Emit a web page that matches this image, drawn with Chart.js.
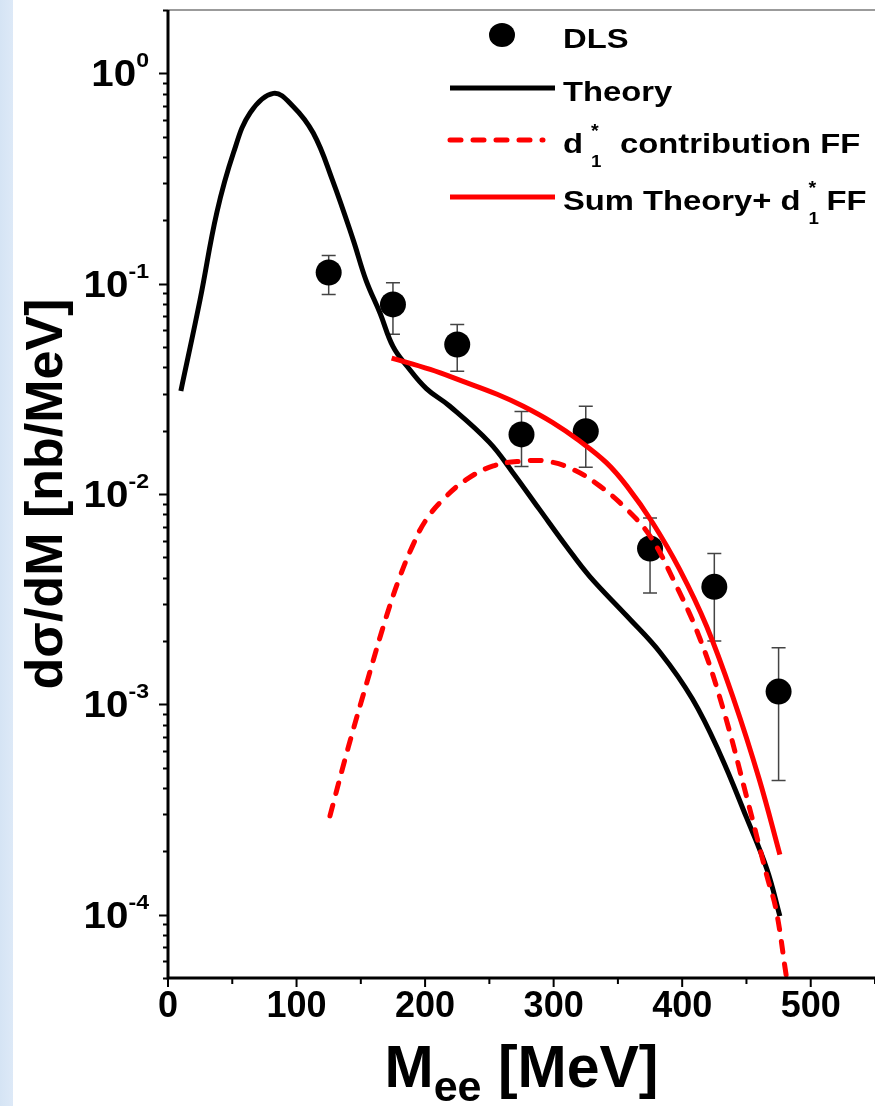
<!DOCTYPE html>
<html>
<head>
<meta charset="utf-8">
<title>DLS dielectron spectrum</title>
<script src="https://cdn.jsdelivr.net/npm/chart.js@4.4.1/dist/chart.umd.min.js"></script>
<style>
    html, body { margin: 0; padding: 0; }
    body {
        width: 875px; height: 1106px; overflow: hidden; position: relative;
        background: linear-gradient(to right, #d5e4f4 0, #dde9f7 13px, #ffffff 13px);
    }
    #chart { position: absolute; left: 0; top: 0; }
</style>
</head>
<body>
<canvas id="chart" width="875" height="1106"></canvas>
<script>
"use strict";

// DLS-mätpunkter (M_ee i MeV, dσ/dM i nb/MeV)
const dlsMass = [125, 175, 225, 275, 325, 375, 425, 475];
const dlsValues = [0.113, 0.0797, 0.0514, 0.0192, 0.0199, 0.00551, 0.00362, 0.00115];
const dlsErrHigh = [0.136, 0.101, 0.064, 0.0247, 0.0261, 0.00768, 0.00522, 0.00186];
const dlsErrLow = [0.0889, 0.0574, 0.0383, 0.0135, 0.0134, 0.00338, 0.0020, 0.000435];

// Teorikurva
const theoryMass = [10, 25, 38, 51, 64, 82, 97, 113, 128, 144, 154, 165, 175, 186, 201, 219, 250, 268, 289, 310, 328, 357, 383, 408, 429, 450, 466, 476];
const theoryValues = [0.0309, 0.0842, 0.218, 0.420, 0.650, 0.803, 0.700, 0.520, 0.310, 0.162, 0.104, 0.0723, 0.0503, 0.0405, 0.0317, 0.0262, 0.0176, 0.0127, 0.00845, 0.00563, 0.00406, 0.00263, 0.00176, 0.00106, 0.000589, 0.000290, 0.000164, 0.0000984];

// d1* bidrag (formfaktor)
const d1Mass = [126, 140, 155, 170, 180, 190, 200, 214, 232, 253, 274, 295, 315, 336, 357, 375, 393, 414, 432, 450, 466, 473, 481];
const d1Values = [0.000295, 0.000617, 0.00129, 0.00263, 0.00398, 0.00562, 0.00741, 0.00942, 0.0117, 0.0136, 0.0143, 0.0143, 0.0131, 0.0109, 0.00845, 0.00631, 0.00393, 0.00204, 0.000946, 0.000366, 0.000152, 0.000106, 0.0000510];

// Summa teori + d1*
const sumMass = [174, 204, 229, 256, 276, 299, 320, 341, 357, 377, 398, 419, 440, 460, 476];
const sumValues = [0.0443, 0.0391, 0.0344, 0.0298, 0.0262, 0.0219, 0.0179, 0.0141, 0.0109, 0.0073, 0.00438, 0.00235, 0.00106, 0.000439, 0.000193];

// Axlar
const xTickValues = [0, 100, 200, 300, 400, 500];
const xMinorTicks = [50, 150, 250, 350, 450, 550];
const yTickPowers = [0, -1, -2, -3, -4];

const FONT = '"Liberation Sans", Arial, sans-serif';

function toPoints(xs, ys) {
    return xs.map((x, i) => ({ x: x, y: ys[i] }));
}

// Text med horisontell sträckning, returnerar bredden
function drawText(ctx, text, x, y, size, sx, align) {
    ctx.save();
    ctx.font = `bold ${size}px ${FONT}`;
    const w = ctx.measureText(text).width * sx;
    let x0 = x;
    if (align === "right") x0 = x - w;
    else if (align === "center") x0 = x - w / 2;
    ctx.translate(x0, y);
    ctx.scale(sx, 1);
    ctx.textAlign = "left";
    ctx.textBaseline = "alphabetic";
    ctx.fillStyle = "#000";
    ctx.fillText(text, 0, 0);
    ctx.restore();
    return w;
}

function textWidth(ctx, text, size, sx) {
    ctx.save();
    ctx.font = `bold ${size}px ${FONT}`;
    const w = ctx.measureText(text).width * sx;
    ctx.restore();
    return w;
}

// Felstaplar under punkterna
const errorBars = {
    id: "errorBars",
    beforeDatasetsDraw(chart) {
        const ctx = chart.ctx;
        const xs = chart.scales.x;
        const ys = chart.scales.y;
        ctx.save();
        ctx.strokeStyle = "#444";
        ctx.lineWidth = 1.5;
        dlsMass.forEach((m, i) => {
            const x = xs.getPixelForValue(m);
            const yHi = ys.getPixelForValue(dlsErrHigh[i]);
            const yLo = ys.getPixelForValue(dlsErrLow[i]);
            ctx.beginPath();
            ctx.moveTo(x, yHi); ctx.lineTo(x, yLo);
            ctx.moveTo(x - 7, yHi); ctx.lineTo(x + 7, yHi);
            ctx.moveTo(x - 7, yLo); ctx.lineTo(x + 7, yLo);
            ctx.stroke();
        });
        ctx.restore();
    }
};

// Axlar, etiketter, titlar och förklaring
const frame = {
    id: "frame",
    afterDraw(chart) {
        const ctx = chart.ctx;
        const a = chart.chartArea;
        const xs = chart.scales.x;
        const ys = chart.scales.y;

        ctx.save();
        // övre ram
        ctx.strokeStyle = "#7a7a7a";
        ctx.lineWidth = 1.5;
        ctx.beginPath();
        ctx.moveTo(a.left, a.top); ctx.lineTo(a.right, a.top);
        ctx.stroke();

        // vänster och nedre axel
        ctx.strokeStyle = "#000";
        ctx.lineWidth = 3;
        ctx.beginPath();
        ctx.moveTo(a.left, a.top); ctx.lineTo(a.left, a.bottom);
        ctx.moveTo(a.left - 1.5, a.bottom); ctx.lineTo(a.right, a.bottom);
        ctx.stroke();

        // y-streck
        ctx.lineWidth = 2;
        ctx.beginPath();
        for (let p = -5; p <= 0; p++) {
            for (let m = 1; m <= 9; m++) {
                const v = m * Math.pow(10, p);
                if (v < ys.min || v > ys.max) continue;
                const y = Math.round(ys.getPixelForValue(v)) + 0.5;
                ctx.moveTo(a.left - (m === 1 ? 9 : 5), y);
                ctx.lineTo(a.left, y);
            }
        }
        // x-streck
        xTickValues.forEach(v => {
            const x = xs.getPixelForValue(v);
            ctx.moveTo(x, a.bottom); ctx.lineTo(x, a.bottom + 9);
        });
        xMinorTicks.forEach(v => {
            const x = xs.getPixelForValue(v);
            ctx.moveTo(x, a.bottom); ctx.lineTo(x, a.bottom + 6);
        });
        ctx.stroke();

        // y-etiketter 10^p
        yTickPowers.forEach(p => {
            const y = ys.getPixelForValue(Math.pow(10, p));
            const exp = String(p);
            const wExp = textWidth(ctx, exp, 21, 1.1);
            const right = 149;
            drawText(ctx, "10", right - wExp, y + 13, 36, 1.12, "right");
            drawText(ctx, exp, right - wExp, y - 6, 21, 1.1, "left");
        });

        // x-etiketter
        xTickValues.forEach(v => {
            drawText(ctx, String(v), xs.getPixelForValue(v), 1017, 36, 1.0, "center");
        });

        // x-titel M_ee [MeV]
        const wM = textWidth(ctx, "M", 59, 1.0);
        const wSub = textWidth(ctx, "ee", 43, 1.0);
        const wRest = textWidth(ctx, " [MeV]", 59, 1.0);
        let tx = (a.left + a.right) / 2 - (wM + wSub + wRest) / 2;
        tx += drawText(ctx, "M", tx, 1087, 59, 1.0, "left");
        tx += drawText(ctx, "ee", tx, 1101, 43, 1.0, "left");
        drawText(ctx, " [MeV]", tx, 1087, 59, 1.0, "left");

        // y-titel
        ctx.save();
        ctx.translate(62, (a.top + a.bottom) / 2);
        ctx.rotate(-Math.PI / 2);
        drawText(ctx, "dσ/dM [nb/MeV]", 0, 0, 52, 1.0, "center");
        ctx.restore();

        // förklaring
        const ds = chart.data.datasets;
        ctx.fillStyle = "#000";
        ctx.beginPath();
        ctx.ellipse(502, 35, 13, 12, 0, 0, Math.PI * 2);
        ctx.fill();
        drawText(ctx, "DLS", 563, 48, 28, 1.17, "left");

        const legendLine = (d, y, x2) => {
            ctx.save();
            ctx.strokeStyle = d.borderColor;
            ctx.lineWidth = d.borderWidth;
            ctx.lineCap = d.borderCapStyle || "butt";
            ctx.setLineDash(d.borderDash || []);
            ctx.beginPath();
            ctx.moveTo(450, y); ctx.lineTo(x2, y);
            ctx.stroke();
            ctx.restore();
        };
        legendLine(ds[1], 88, 555);
        drawText(ctx, "Theory", 563, 101, 28, 1.17, "left");

        legendLine(ds[2], 140, 543);
        let lx = 563;
        lx += drawText(ctx, "d", lx, 153, 28, 1.17, "left");
        drawText(ctx, "*", lx + 8, 137, 18, 1.1, "left");
        drawText(ctx, "1", lx + 8, 167, 17, 1.1, "left");
        drawText(ctx, "contribution FF", lx + 37, 153, 28, 1.17, "left");

        legendLine(ds[3], 197, 555);
        lx = 563;
        lx += drawText(ctx, "Sum Theory+ d", lx, 210, 28, 1.17, "left");
        drawText(ctx, "*", lx + 8, 194, 18, 1.1, "left");
        drawText(ctx, "1", lx + 8, 224, 17, 1.1, "left");
        drawText(ctx, "FF", lx + 26, 210, 28, 1.17, "left");

        ctx.restore();
    }
};

new Chart(document.getElementById("chart"), {
    type: "line",
    data: {
        datasets: [
            {
                label: "DLS",
                data: toPoints(dlsMass, dlsValues),
                showLine: false,
                pointRadius: 13,
                pointBackgroundColor: "#000",
                pointBorderWidth: 0,
                order: 10
            },
            {
                label: "Theory",
                data: toPoints(theoryMass, theoryValues),
                borderColor: "#000",
                borderWidth: 5,
                pointRadius: 0,
                tension: 0.4,
                order: 3
            },
            {
                label: "d1* contribution FF",
                data: toPoints(d1Mass, d1Values),
                borderColor: "#ff0000",
                borderWidth: 5,
                borderDash: [11, 12],
                borderCapStyle: "round",
                pointRadius: 0,
                tension: 0.4,
                order: 1
            },
            {
                label: "Sum Theory+ d1* FF",
                data: toPoints(sumMass, sumValues),
                borderColor: "#ff0000",
                borderWidth: 5,
                pointRadius: 0,
                tension: 0.4,
                order: 2
            }
        ]
    },
    options: {
        responsive: false,
        animation: false,
        devicePixelRatio: 1,
        layout: { autoPadding: false, padding: { top: 10, right: 0, left: 0, bottom: 0 } },
        plugins: {
            legend: { display: false },
            tooltip: { enabled: false }
        },
        scales: {
            x: {
                type: "linear",
                min: 0,
                max: 550,
                ticks: { display: false },
                grid: { display: false },
                border: { display: false },
                afterFit: s => { s.height = 128; }
            },
            y: {
                type: "logarithmic",
                min: 5e-5,
                max: 2,
                ticks: { display: false },
                grid: { display: false },
                border: { display: false },
                afterFit: s => { s.width = 168; }
            }
        }
    },
    plugins: [errorBars, frame]
});
</script>
</body>
</html>
